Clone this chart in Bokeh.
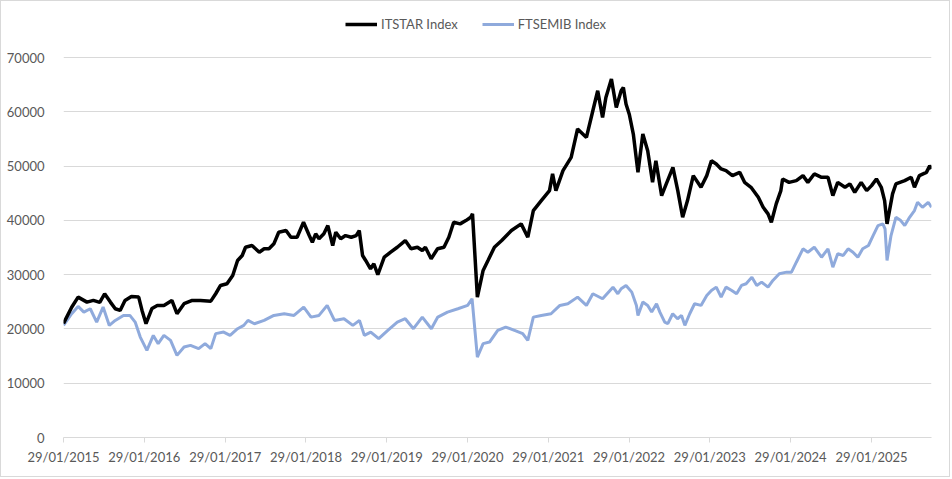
import pandas as pd
from bokeh.plotting import figure
from bokeh.models import (ColumnDataSource, Legend, LegendItem, FixedTicker,
                          DatetimeTickFormatter, NumeralTickFormatter, Range1d)
from bokeh.embed import file_html
from bokeh.resources import INLINE

# ITSTAR Index
itstar_dates = [
    "2015-01-29", "2015-03-07", "2015-04-05", "2015-05-15", "2015-06-13", "2015-07-12",
    "2015-08-03", "2015-08-29", "2015-09-20", "2015-10-12", "2015-11-03", "2015-12-02",
    "2016-01-04", "2016-01-19", "2016-02-06", "2016-03-04", "2016-03-28", "2016-04-27",
    "2016-06-02", "2016-06-25", "2016-07-27", "2016-09-02", "2016-10-09", "2016-11-25",
    "2016-12-17", "2017-01-08", "2017-02-06", "2017-03-04", "2017-03-26", "2017-04-16",
    "2017-05-01", "2017-05-30", "2017-07-02", "2017-07-24", "2017-08-15", "2017-09-06",
    "2017-09-28", "2017-10-31", "2017-11-22", "2017-12-20", "2018-01-18", "2018-02-13",
    "2018-02-27", "2018-03-14", "2018-03-29", "2018-04-20", "2018-05-08", "2018-05-30",
    "2018-06-13", "2018-07-05", "2018-07-27", "2018-08-22", "2018-09-13", "2018-09-27",
    "2018-10-12", "2018-10-26", "2018-11-17", "2018-12-02", "2018-12-20", "2019-01-18",
    "2019-02-16", "2019-03-18", "2019-04-23", "2019-05-19", "2019-06-17", "2019-07-09",
    "2019-07-23", "2019-08-18", "2019-09-16", "2019-10-15", "2019-11-06", "2019-11-28",
    "2019-12-27", "2020-01-22", "2020-02-13", "2020-02-21", "2020-03-14", "2020-04-09",
    "2020-05-01", "2020-05-30", "2020-07-02", "2020-08-15", "2020-09-28", "2020-10-28",
    "2020-11-22", "2020-12-28", "2021-02-03", "2021-02-17", "2021-03-04", "2021-04-05",
    "2021-05-12", "2021-06-10", "2021-07-20", "2021-08-18", "2021-09-09", "2021-10-01",
    "2021-10-16", "2021-11-10", "2021-12-02", "2021-12-24", "2022-01-03", "2022-01-15",
    "2022-01-30", "2022-02-17", "2022-03-10", "2022-04-01", "2022-04-23", "2022-05-15",
    "2022-05-30", "2022-06-25", "2022-07-16", "2022-08-15", "2022-09-06", "2022-09-28",
    "2022-10-20", "2022-11-15", "2022-12-20", "2023-01-15", "2023-02-05", "2023-02-27",
    "2023-03-21", "2023-04-12", "2023-05-11", "2023-06-13", "2023-07-05", "2023-08-03",
    "2023-09-05", "2023-09-27", "2023-10-19", "2023-11-03", "2023-11-25", "2023-12-16",
    "2023-12-24", "2024-01-22", "2024-02-24", "2024-03-25", "2024-04-16", "2024-05-15",
    "2024-06-17", "2024-07-16", "2024-08-07", "2024-08-29", "2024-10-01", "2024-10-23",
    "2024-11-14", "2024-12-13", "2025-01-07", "2025-01-29", "2025-02-20", "2025-03-14",
    "2025-03-29", "2025-04-09", "2025-05-04", "2025-05-19", "2025-06-28", "2025-07-27",
    "2025-08-11", "2025-09-02", "2025-10-04", "2025-10-19", "2025-10-27",
]
itstar_values = [
    21000, 24000, 25860, 24940, 25250, 24900,
    26480, 24940, 23720, 23410, 25250, 25980,
    25860, 23410, 20960, 23780, 24330, 24330,
    25250, 22800, 24640, 25250, 25250, 25120,
    26480, 28010, 28320, 29850, 32610, 33530,
    35050, 35370, 34130, 34760, 34760, 35680,
    37810, 38120, 36890, 36890, 39650, 37200,
    35970, 37520, 36600, 37520, 39040, 35370,
    37810, 36600, 37200, 36890, 37200, 38120,
    33530, 32610, 31070, 32000, 29980, 33210,
    34130, 35050, 36280, 34760, 35050, 34440,
    35050, 32920, 34760, 35050, 36890, 39650,
    39350, 39960, 40570, 41190, 25860, 30770,
    32610, 35050, 36280, 38120, 39350, 36890,
    41800, 43640, 45480, 48550, 45480, 49160,
    51600, 56830, 55280, 60190, 63870, 58960,
    62630, 66020, 60800, 63870, 64480, 61420,
    59500, 55900, 48840, 55900, 52830, 47000,
    50990, 44560, 46710, 49760, 45480, 40570,
    43640, 48240, 46090, 48240, 50990, 50380,
    49470, 49160, 48240, 48840, 47000, 46090,
    44250, 42410, 41190, 39650, 43030, 45480,
    47630, 47000, 47320, 48240, 47000, 48550,
    47930, 47930, 44560, 47000, 46090, 46710,
    45170, 47000, 45480, 46400, 47630, 46090,
    43640, 39350, 44870, 46710, 47320, 47930,
    46090, 48240, 48840, 50070, 49470,
]

# FTSEMIB Index
ftsemib_dates = [
    "2015-01-29", "2015-03-07", "2015-04-05", "2015-05-01", "2015-05-30", "2015-06-28",
    "2015-07-27", "2015-08-24", "2015-09-20", "2015-10-27", "2015-11-25", "2015-12-19",
    "2016-01-11", "2016-02-10", "2016-03-10", "2016-04-01", "2016-04-27", "2016-05-27",
    "2016-06-25", "2016-07-27", "2016-08-25", "2016-10-01", "2016-10-30", "2016-11-25",
    "2016-12-17", "2017-01-22", "2017-02-20", "2017-03-26", "2017-04-23", "2017-05-12",
    "2017-06-10", "2017-07-24", "2017-09-06", "2017-10-23", "2017-12-06", "2018-01-19",
    "2018-02-21", "2018-03-29", "2018-05-05", "2018-06-07", "2018-07-20", "2018-08-29",
    "2018-09-28", "2018-10-20", "2018-11-18", "2018-12-24", "2019-02-03", "2019-03-18",
    "2019-04-23", "2019-05-30", "2019-07-09", "2019-08-19", "2019-09-17", "2019-10-31",
    "2019-12-17", "2020-01-30", "2020-02-19", "2020-03-14", "2020-04-09", "2020-05-08",
    "2020-06-14", "2020-07-20", "2020-08-29", "2020-10-05", "2020-10-28", "2020-11-22",
    "2020-12-28", "2021-02-10", "2021-03-22", "2021-04-27", "2021-06-10", "2021-07-20",
    "2021-08-18", "2021-10-01", "2021-11-17", "2021-12-09", "2021-12-24", "2022-01-15",
    "2022-02-10", "2022-03-03", "2022-03-10", "2022-04-01", "2022-04-23", "2022-05-11",
    "2022-06-02", "2022-06-17", "2022-07-09", "2022-07-23", "2022-08-14", "2022-09-05",
    "2022-09-23", "2022-10-08", "2022-10-30", "2022-11-21", "2022-12-20", "2023-01-15",
    "2023-02-05", "2023-02-27", "2023-03-21", "2023-04-12", "2023-05-08", "2023-05-30",
    "2023-06-21", "2023-07-12", "2023-08-07", "2023-08-29", "2023-09-20", "2023-10-19",
    "2023-11-10", "2023-12-09", "2024-01-11", "2024-02-02", "2024-02-24", "2024-03-25",
    "2024-04-16", "2024-05-15", "2024-06-17", "2024-07-16", "2024-08-07", "2024-08-29",
    "2024-09-23", "2024-10-15", "2024-11-06", "2024-11-28", "2024-12-20", "2025-01-15",
    "2025-02-05", "2025-02-27", "2025-03-21", "2025-03-31", "2025-04-09", "2025-04-27",
    "2025-05-19", "2025-06-10", "2025-06-28", "2025-07-20", "2025-08-11", "2025-08-25",
    "2025-09-16", "2025-10-12", "2025-10-27",
]
ftsemib_values = [
    20650, 22800, 24150, 23100, 23720, 21260,
    24020, 20650, 21570, 22490, 22490, 21260,
    18500, 16050, 18810, 17290, 18810, 17890,
    15130, 16660, 16970, 16370, 17290, 16370,
    19130, 19420, 18810, 20040, 20650, 21570,
    20960, 21570, 22490, 22800, 22490, 24020,
    22180, 22490, 24330, 21570, 21880, 20650,
    21570, 18810, 19420, 18200, 19730, 21260,
    21880, 20040, 22180, 20040, 22180, 23100,
    23720, 24330, 25560, 14820, 17290, 17580,
    19730, 20340, 19730, 19130, 17890, 22180,
    22490, 22800, 24330, 24640, 25860, 24330,
    26480, 25560, 27700, 26480, 27400, 28010,
    26780, 24330, 22490, 24940, 24330, 23100,
    24640, 23100, 21260, 20960, 22800, 21880,
    22490, 20650, 22800, 24640, 24330, 26170,
    27090, 27700, 25860, 27700, 27090, 26480,
    28010, 28320, 29540, 28010, 28620, 27700,
    28930, 30160, 30460, 30460, 32290, 34760,
    34130, 35050, 33210, 34760, 31370, 33840,
    33530, 34760, 34130, 33210, 34760, 35370,
    37200, 39040, 39350, 38430, 32610, 37200,
    40570, 39960, 39040, 40570, 41800, 43330,
    42410, 43330, 42410,
]

tick_dates = ["2015-01-29", "2016-01-29", "2017-01-29", "2018-01-29", "2019-01-29",
              "2020-01-29", "2021-01-29", "2022-01-29", "2023-01-29", "2024-01-29",
              "2025-01-29"]
y_ticks = [0, 10000, 20000, 30000, 40000, 50000, 60000, 70000]

FONT = "Lato"
GREY_TXT = "#595959"
GRID = "#d9d9d9"

src_it = ColumnDataSource(data={"date": pd.to_datetime(itstar_dates), "value": itstar_values})
src_ft = ColumnDataSource(data={"date": pd.to_datetime(ftsemib_dates), "value": ftsemib_values})

x_start = pd.Timestamp("2015-01-29")
x_end = pd.Timestamp("2025-10-27")

# the frame runs up near the top so the legend can sit above the 70000 line
# (70000 is 380px above 0, the frame is 425px tall)
# 950x477 plus a 1px chart-area border on every side
p = figure(width=950, height=477, x_axis_type="datetime", output_backend="svg",
           toolbar_location=None, tools="",
           x_range=Range1d(x_start, x_end), y_range=Range1d(0, 70000 * 425 / 380),
           min_border_left=62, min_border_right=20, min_border_top=11, min_border_bottom=41)
p.styles = {"border": "1px solid #d9d9d9"}

line_ft = p.line("date", "value", source=src_ft, line_width=3, color="#8faadc")
line_it = p.line("date", "value", source=src_it, line_width=3.5, color="black")

legend = Legend(items=[
    LegendItem(label="ITSTAR Index", renderers=[line_it]),
    LegendItem(label="FTSEMIB Index", renderers=[line_ft]),
], orientation="horizontal", location=(282, 403))
legend.padding = 0
legend.margin = 0
legend.spacing = 24
legend.glyph_width = 32
legend.label_standoff = 4
legend.border_line_color = None
legend.background_fill_alpha = 0
legend.label_text_font = FONT
legend.label_text_font_size = "13px"
legend.label_text_color = GREY_TXT
p.add_layout(legend)

p.xaxis.ticker = FixedTicker(ticks=[pd.Timestamp(d).value // 10**6 for d in tick_dates])
p.xaxis.formatter = DatetimeTickFormatter(days="%d/%m/%Y", months="%d/%m/%Y", years="%d/%m/%Y")
p.xaxis.axis_line_color = GRID
p.xaxis.major_tick_line_color = GRID
p.xaxis.major_tick_out = 5
p.xaxis.major_tick_in = 0
p.xaxis.minor_tick_line_color = None
p.xaxis.major_label_standoff = 6
p.xaxis.major_label_text_font = FONT
p.xaxis.major_label_text_font_size = "13px"
p.xaxis.major_label_text_color = GREY_TXT

p.yaxis.ticker = FixedTicker(ticks=y_ticks)
p.yaxis.formatter = NumeralTickFormatter(format="0")
p.yaxis.axis_line_color = None
p.yaxis.major_tick_line_color = None
p.yaxis.minor_tick_line_color = None
p.yaxis.major_label_standoff = 13
p.yaxis.major_label_text_font = FONT
p.yaxis.major_label_text_font_size = "13px"
p.yaxis.major_label_text_color = GREY_TXT

p.xgrid.visible = False
p.ygrid.grid_line_color = GRID
p.outline_line_color = None

open("out.html", "w").write(file_html(p, INLINE))
